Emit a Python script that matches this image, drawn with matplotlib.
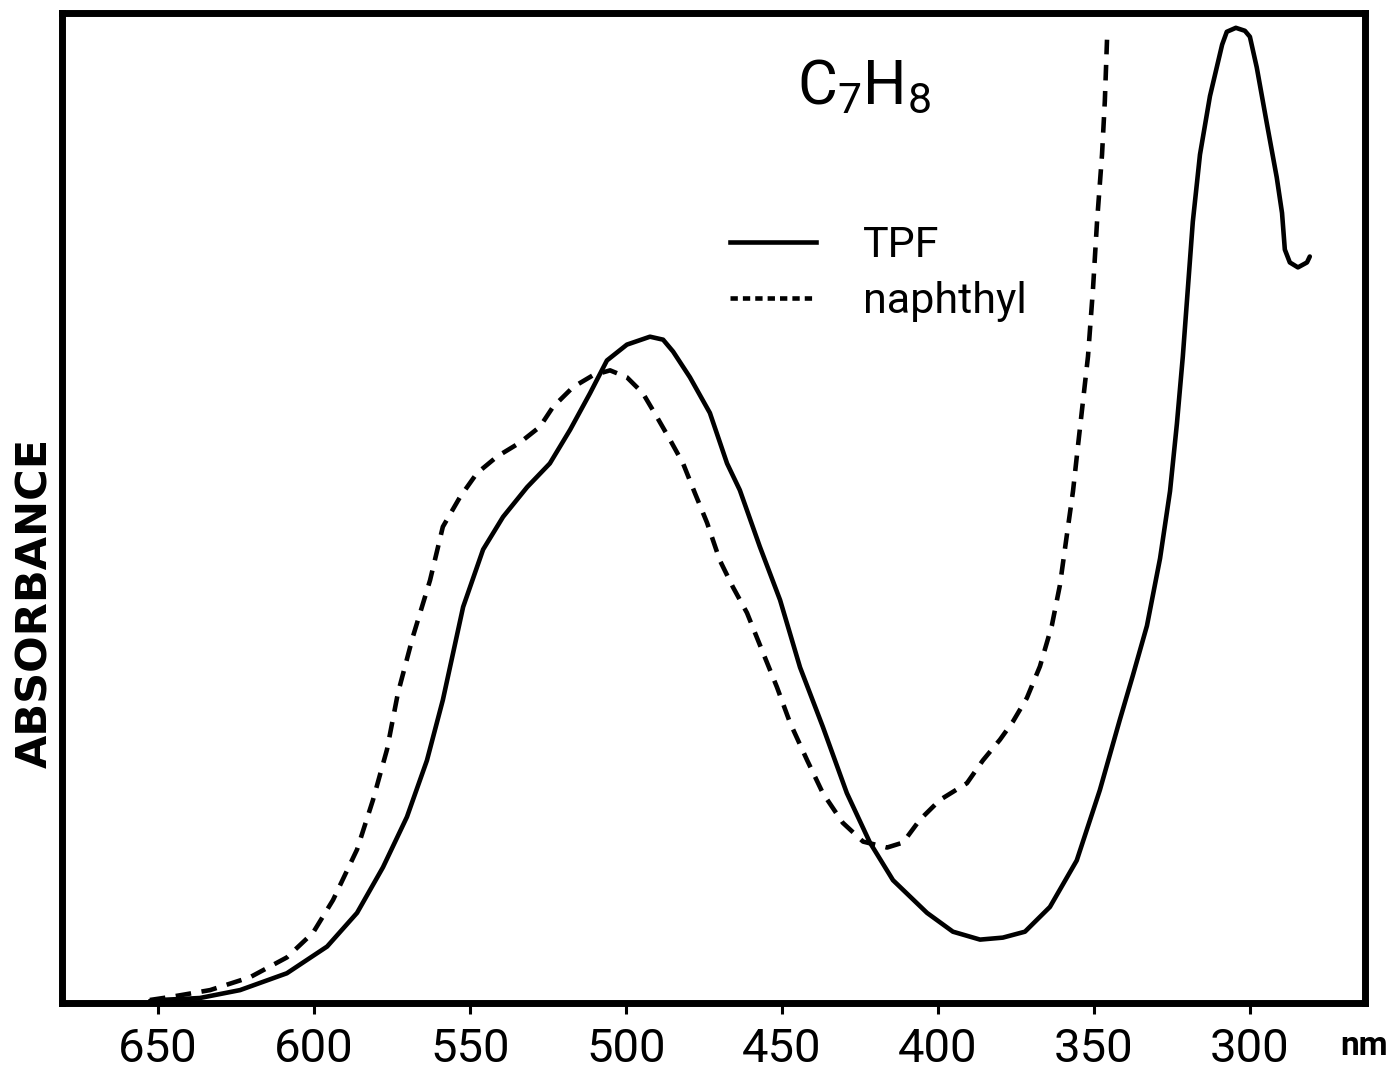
import matplotlib.pyplot as plt
from matplotlib.lines import Line2D

plt.rcParams.update({
    'font.family': 'Roboto',
    'mathtext.fontset': 'custom',
    'mathtext.rm': 'Roboto',
    'mathtext.it': 'Roboto',
})

# TPF (solid) – wavelength (nm) and absorbance (arb. units, full scale = 1)
tpf_nm = [652.6, 649.4, 636.6, 623.7, 608.7, 595.8, 586.2, 577.9, 570.2, 563.8,
          558.7, 552.2, 545.8, 539.4, 531.7, 524.4, 517.9, 511.5, 506.1, 499.7,
          492.3, 488.1, 484.9, 479.5, 473.1, 467.6, 463.5, 457.1, 450.6, 444.2,
          436.9, 429.2, 421.8, 414.4, 403.5, 395.2, 386.5, 379.2, 372.1, 364.1,
          355.5, 348.1, 341.7, 337.5, 333.0, 328.8, 325.6, 323.4, 321.5, 319.9,
          318.3, 316.0, 312.8, 308.9, 307.4, 304.5, 301.6, 300.0, 297.8, 294.6,
          291.4, 289.7, 288.8, 287.2, 284.6, 281.7, 280.8]
tpf_abs = [0.002, 0.003, 0.005, 0.013, 0.030, 0.057, 0.091, 0.137, 0.188, 0.245,
           0.306, 0.400, 0.458, 0.491, 0.521, 0.545, 0.579, 0.616, 0.649, 0.665,
           0.673, 0.670, 0.658, 0.632, 0.596, 0.545, 0.518, 0.461, 0.407, 0.339,
           0.279, 0.212, 0.162, 0.124, 0.091, 0.072, 0.064, 0.066, 0.072, 0.097,
           0.144, 0.215, 0.286, 0.331, 0.381, 0.449, 0.517, 0.585, 0.653, 0.721,
           0.789, 0.857, 0.916, 0.968, 0.981, 0.985, 0.982, 0.976, 0.945, 0.889,
           0.834, 0.798, 0.761, 0.748, 0.743, 0.748, 0.754]

# naphthyl (dashed)
nap_nm = [652.6, 646.2, 633.3, 620.5, 608.7, 600.3, 593.9, 586.2, 581.1, 576.6,
          573.1, 568.3, 562.8, 558.7, 553.2, 547.8, 541.3, 534.0, 527.6, 523.4,
          517.0, 510.6, 505.1, 499.7, 494.6, 490.1, 485.9, 481.7, 477.9, 474.0,
          469.9, 465.7, 461.2, 456.1, 451.6, 447.4, 441.9, 436.9, 430.5, 424.0,
          416.3, 411.2, 405.8, 399.4, 390.7, 385.6, 380.1, 376.0, 371.5, 367.3,
          363.5, 360.9, 358.7, 356.7, 355.1, 353.5, 351.9, 350.3, 349.0, 347.4,
          346.5, 345.8]
nap_abs = [0.003, 0.006, 0.013, 0.026, 0.046, 0.071, 0.104, 0.155, 0.205, 0.256,
           0.313, 0.370, 0.427, 0.481, 0.511, 0.535, 0.552, 0.566, 0.582, 0.602,
           0.622, 0.634, 0.639, 0.632, 0.616, 0.592, 0.569, 0.545, 0.515, 0.485,
           0.447, 0.420, 0.394, 0.354, 0.319, 0.283, 0.245, 0.212, 0.182, 0.163,
           0.157, 0.162, 0.185, 0.205, 0.222, 0.245, 0.266, 0.284, 0.308, 0.340,
           0.381, 0.422, 0.472, 0.517, 0.563, 0.608, 0.653, 0.721, 0.789, 0.857,
           0.911, 0.973]

ticks = [650, 600, 550, 500, 450, 400, 350, 300]

fig = plt.figure(figsize=(13.95, 10.72), dpi=100)
ax = fig.add_axes([0.0444, 0.0644, 0.9341, 0.9235])

ax.plot(tpf_nm, tpf_abs, color='black', lw=3.3,
        solid_capstyle='round', solid_joinstyle='round')
ax.plot(nap_nm, nap_abs, color='black', lw=3.3, dashes=(3.4, 2.3),
        dash_joinstyle='round')

ax.set_xlim(680.8, 263.1)
ax.set_ylim(0, 1)

for sp in ax.spines.values():
    sp.set_linewidth(5)
    sp.set_color('black')

ax.set_xticks(ticks)
ax.set_xticklabels([str(t) for t in ticks])
ax.set_yticks([])
ax.tick_params(axis='x', direction='out', length=8, width=2.2, pad=9, labelsize=34)

# legend
handles = [Line2D([], [], color='black', lw=3.3),
           Line2D([], [], color='black', lw=3.3, dashes=(1.6, 1.1))]
ax.legend(handles, ['TPF', 'naphthyl'], loc='upper left',
          bbox_to_anchor=(0.523, 0.790), bbox_transform=fig.transFigure,
          frameon=False, fontsize=31, handlelength=2.0, handletextpad=1.1,
          labelspacing=0.35, borderpad=0, borderaxespad=0)

fig.text(0.571, 0.904, r'$\mathregular{C_7H_8}$', fontsize=44, ha='left', va='baseline')
fig.text(0.025, 0.438, 'ABSORBANCE', rotation=90, fontsize=31, fontweight='bold',
         family='DejaVu Sans', ha='center', va='center')
fig.text(0.978, 0.016, 'nm', fontsize=24, fontweight='bold', ha='center', va='baseline')

fig.savefig('out.png', dpi=100)
